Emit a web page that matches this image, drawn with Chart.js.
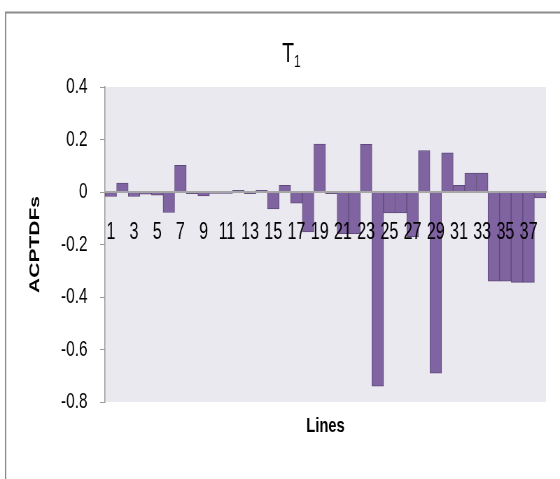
<!DOCTYPE html>
<html>
<head>
<meta charset="utf-8">
<script src="https://cdn.jsdelivr.net/npm/chart.js@4"></script>
<style>
  html, body { margin: 0; padding: 0; background: #fff; overflow: hidden; }
  /* the source picture is squeezed sideways, so the chart is drawn wider and squeezed the same way */
  #wrap { width: 800px; height: 479px; position: relative; transform: scaleX(0.7); transform-origin: 0 0; }
</style>
</head>
<body>
<div id="wrap"><canvas id="chart"></canvas></div>
<script>
const lines = ["1","2","3","4","5","6","7","8","9","10","11","12","13","14","15","16","17","18","19",
    "20","21","22","23","24","25","26","27","28","29","30","31","32","33","34","35","36","37","38"];

const acptdfs = [-0.017, 0.034, -0.017, -0.008, -0.012, -0.078, 0.102, -0.006, -0.015, -0.005,
    -0.005, 0.006, -0.006, 0.006, -0.064, 0.025, -0.043, -0.152, 0.183, -0.006,
    -0.159, -0.159, 0.182, -0.74, -0.08, -0.08, -0.17, 0.158, -0.69, 0.149,
    0.025, 0.072, 0.072, -0.34, -0.34, -0.344, -0.344, -0.023];

const yTicks = [0.4, 0.2, 0, -0.2, -0.4, -0.6, -0.8];

const FONT = '"Liberation Sans", Arial, sans-serif';

// frame, plot background and the two hand drawn titles
const decor = {
    id: "decor",
    beforeDraw(chart) {
        const { ctx, chartArea: a } = chart;
        ctx.save();
        ctx.fillStyle = "#ebe9f0";
        ctx.fillRect(a.left, a.top, a.right - a.left, a.bottom - a.top);
        ctx.strokeStyle = "#8c8c8c";
        ctx.lineWidth = 2;
        ctx.beginPath();
        ctx.moveTo(8, 479);
        ctx.lineTo(8, 12.5);
        ctx.lineTo(800, 12.5);
        ctx.stroke();
        ctx.restore();
    },
    afterDraw(chart) {
        const { ctx, chartArea: a } = chart;
        ctx.save();
        ctx.fillStyle = "#000";
        ctx.textBaseline = "alphabetic";
        ctx.textAlign = "left";
        ctx.font = "28px " + FONT;
        ctx.fillText("T", 403, 62);
        const tw = ctx.measureText("T").width;
        ctx.font = "17px " + FONT;
        ctx.fillText("1", 403 + tw, 67);

        ctx.font = "bold 21px " + FONT;
        ctx.textAlign = "center";
        ctx.fillText("Lines", (a.left + a.right) / 2, 432);
        ctx.restore();
    }
};

new Chart(document.getElementById("chart"), {
    type: "bar",
    data: {
        labels: lines,
        datasets: [{
            label: "ACPTDFs",
            data: acptdfs,
            backgroundColor: "#8064a2",
            borderColor: "#5e4a7a",
            borderWidth: 1,
            barPercentage: 1,
            categoryPercentage: 1
        }]
    },
    options: {
        responsive: true,
        maintainAspectRatio: false,
        animation: false,
        layout: { padding: { left: 0, right: 20, top: 87, bottom: 77 } },
        plugins: {
            legend: { display: false },
            tooltip: { enabled: false }
        },
        scales: {
            x: {
                position: { y: 0 },
                grid: { display: false },
                border: { display: true, color: "#a6a6a6", width: 2, z: 1 },
                ticks: {
                    z: 1,
                    autoSkip: false,
                    maxRotation: 0,
                    padding: 19,
                    color: "#000",
                    font: { family: FONT, size: 23 },
                    callback: (v, i) => (i % 2 === 0 ? lines[i] : "")
                }
            },
            y: {
                min: -0.8,
                max: 0.4,
                afterFit(scale) { scale.width = 150; },
                afterBuildTicks(scale) { scale.ticks = yTicks.map(v => ({ value: v })); },
                grid: { drawOnChartArea: false, tickLength: 7, color: "#999" },
                border: { display: true, color: "#999", width: 1.5 },
                ticks: {
                    padding: 18,
                    color: "#000",
                    font: { family: FONT, size: 22 },
                    callback: v => (Math.abs(v) < 1e-9 ? "0" : v.toFixed(1))
                },
                title: {
                    display: true,
                    text: "ACPTDFs",
                    color: "#000",
                    font: { family: FONT, size: 21, weight: "bold" },
                    padding: { top: 38, bottom: 0 }
                }
            }
        }
    },
    plugins: [decor]
});
</script>
</body>
</html>
